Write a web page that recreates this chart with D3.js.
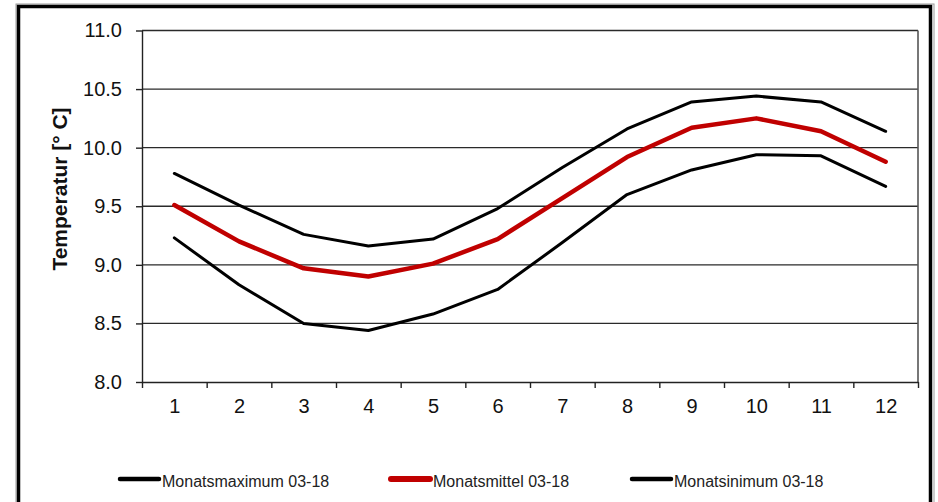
<!DOCTYPE html>
<html>
<head>
<meta charset="utf-8">
<script src="https://cdn.jsdelivr.net/npm/d3@7"></script>
<style>
  html, body { margin: 0; padding: 0; background: #fff; }
  svg { display: block; font-family: "Liberation Sans", Arial, sans-serif; }
</style>
</head>
<body>
<svg id="chart" width="938" height="502"></svg>
<script>
// Monthly water temperatures, 2003-2018
const months = [1, 2, 3, 4, 5, 6, 7, 8, 9, 10, 11, 12];
const monatsMaximum = [9.78, 9.51, 9.26, 9.16, 9.22, 9.48, 9.83, 10.16, 10.39, 10.44, 10.39, 10.14];
const monatsMittel  = [9.51, 9.20, 8.97, 8.90, 9.01, 9.22, 9.57, 9.92, 10.17, 10.25, 10.14, 9.88];
const monatsMinimum = [9.23, 8.83, 8.50, 8.44, 8.58, 8.79, 9.19, 9.60, 9.81, 9.94, 9.93, 9.67];
const yTicks = [8.0, 8.5, 9.0, 9.5, 10.0, 10.5, 11.0];
const seriesNames = ["Monatsmaximum 03-18", "Monatsmittel 03-18", "Monatsinimum 03-18"];
const yTitle = "Temperatur [° C]";

const series = [
  { name: seriesNames[0], values: monatsMaximum, color: "#000000", width: 3 },
  { name: seriesNames[1], values: monatsMittel,  color: "#c00000", width: 4.5 },
  { name: seriesNames[2], values: monatsMinimum, color: "#000000", width: 3 }
];

const svg = d3.select("#chart");
const plot = { left: 142, right: 918, top: 30.5, bottom: 382 };

// outer frame
svg.append("rect")
  .attr("x", 16).attr("y", 4).attr("width", 918).attr("height", 510)
  .attr("fill", "none").attr("stroke", "#9a9a9a").attr("stroke-width", 1);
svg.append("rect")
  .attr("x", 18.5).attr("y", 6.5).attr("width", 912).attr("height", 510)
  .attr("fill", "none").attr("stroke", "#000").attr("stroke-width", 3.5);

const x = d3.scaleLinear().domain([0.5, 12.5]).range([plot.left, plot.right]);
const y = d3.scaleLinear().domain([8, 11]).range([plot.bottom, plot.top]);

// horizontal gridlines
svg.append("g")
  .selectAll("line")
  .data(yTicks.filter(v => v > 8))
  .join("line")
  .attr("x1", plot.left).attr("x2", plot.right)
  .attr("y1", d => y(d)).attr("y2", d => y(d))
  .attr("stroke", "#2a2a2a").attr("stroke-width", 1.4);

// right edge of plot area
svg.append("line")
  .attr("x1", plot.right).attr("x2", plot.right)
  .attr("y1", plot.top).attr("y2", plot.bottom)
  .attr("stroke", "#555").attr("stroke-width", 1.6);

// y axis
const yAxis = svg.append("g")
  .attr("transform", `translate(${plot.left},0)`)
  .call(d3.axisLeft(y).tickValues(yTicks).tickFormat(d3.format(".1f")).tickSize(6).tickPadding(14).tickSizeOuter(0));
yAxis.select(".domain").attr("stroke", "#222").attr("stroke-width", 1.4);
yAxis.selectAll(".tick line").attr("stroke", "#222").attr("stroke-width", 1.4);
yAxis.selectAll(".tick text").attr("font-size", 20).attr("fill", "#111")
  .attr("font-family", "Liberation Sans, Arial, sans-serif");

// x axis: tick marks on month boundaries
const bounds = d3.range(0.5, 12.6, 1);
const xAxis = svg.append("g")
  .attr("transform", `translate(0,${plot.bottom})`)
  .call(d3.axisBottom(x).tickValues(bounds).tickFormat("").tickSize(6).tickSizeOuter(0));
xAxis.select(".domain").attr("stroke", "#222").attr("stroke-width", 1.4);
xAxis.selectAll(".tick line").attr("stroke", "#222").attr("stroke-width", 1.4);

// x axis: month labels centred in each month
const xLabels = svg.append("g")
  .attr("transform", `translate(0,${plot.bottom})`)
  .call(d3.axisBottom(x).tickValues(months).tickFormat(d3.format("d")).tickSize(0).tickPadding(17));
xLabels.select(".domain").remove();
xLabels.selectAll(".tick text").attr("font-size", 20).attr("fill", "#111")
  .attr("font-family", "Liberation Sans, Arial, sans-serif");

// y axis title
svg.append("text")
  .attr("transform", `translate(67,${(103 + 275) / 2}) rotate(-90)`)
  .attr("text-anchor", "middle")
  .attr("font-size", 21).attr("font-weight", "bold").attr("fill", "#111")
  .text(yTitle);

// series lines
const line = d3.line()
  .x((d, i) => x(months[i]))
  .y(d => y(d));

svg.append("g")
  .selectAll("path")
  .data(series)
  .join("path")
  .attr("d", d => line(d.values))
  .attr("fill", "none")
  .attr("stroke", d => d.color)
  .attr("stroke-width", d => d.width)
  .attr("stroke-linejoin", "round")
  .attr("stroke-linecap", "round");

// legend
const legendX = [120, 391, 632];
const legendY = 479;
const lg = svg.append("g")
  .selectAll("g")
  .data(series)
  .join("g")
  .attr("transform", (d, i) => `translate(${legendX[i]},${legendY})`);
lg.append("line")
  .attr("x1", 0).attr("x2", 39)
  .attr("y1", 0).attr("y2", 0)
  .attr("stroke", d => d.color)
  .attr("stroke-width", d => d.width + 1.5)
  .attr("stroke-linecap", "round");
lg.append("text")
  .attr("x", 42)
  .attr("y", 7.5)
  .attr("font-size", 16).attr("fill", "#222")
  .text(d => d.name);
</script>
</body>
</html>
